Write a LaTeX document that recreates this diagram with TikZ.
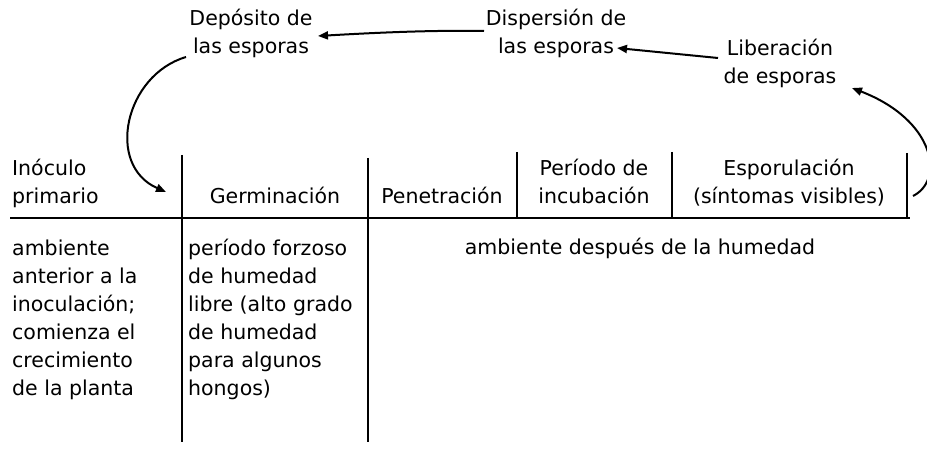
\documentclass[tikz,border=0pt]{standalone}
\usepackage{fontspec}
\newfontfamily\dv{DejaVu Sans}
\usetikzlibrary{arrows.meta}
\tikzset{
  lbl/.style={inner sep=0pt, font=\dv\fontsize{20.5}{28}\selectfont, align=left},
  hdr/.style={inner sep=0pt, font=\dv\fontsize{20.5}{28.5}\selectfont},
  rulel/.style={line width=2pt},
  arr/.style={line width=2pt, -{Triangle[length=10pt,width=8pt]}},
}
\begin{document}
\begin{tikzpicture}[x=1pt,y=-1pt]
\useasboundingbox (0,0) rectangle (927,449);
% top labels (anchor = baseline of last line)
\node[hdr, anchor=base, align=center] (dep) at (251,54) {Depósito de\\las esporas};
\node[hdr, anchor=base, align=center] (disp) at (556,54) {Dispersión de\\las esporas};
\node[hdr, anchor=base, align=center] (lib) at (780,84) {Liberación\\de esporas};
% headers
\node[hdr, anchor=base west, align=left] (inoc) at (12,204) {Inóculo\\primario};
\node[hdr, anchor=base] (germ) at (275,204) {Germinación};
\node[hdr, anchor=base] (pen) at (442,204) {Penetración};
\node[hdr, anchor=base, align=center] (inc) at (594,204) {Período de\\incubación};
\node[hdr, anchor=base, align=center] (esp) at (789,204) {Esporulación\\(síntomas visibles)};
% body
\node[lbl, anchor=base west] (amb1) at (12,395) {ambiente\\anterior a la\\inoculación;\\comienza el\\crecimiento\\de la planta};
\node[lbl, anchor=base west] (hum) at (188,395) {período forzoso\\de humedad\\libre (alto grado\\de humedad\\para algunos\\hongos)};
\node[lbl, anchor=base] (amb2) at (640,255) {ambiente después de la humedad};
% rules
\draw[rulel] (10,218) -- (910,218);
\draw[rulel] (182,155) -- (182,442);
\draw[rulel] (368,158) -- (368,442);
\draw[rulel] (517,152) -- (517,218);
\draw[rulel] (672,152) -- (672,218);
\draw[rulel] (907,153) -- (907,218);
% arrow end points
\coordinate (a1s) at (484,31);
\coordinate (a1e) at (318,36);
\coordinate (a2s) at (718,58);
\coordinate (a2e) at (617,48);
\coordinate (a3s) at (913,196);
\coordinate (a3e) at (852,88);
\coordinate (a4s) at (186,57);
\coordinate (a4e) at (166,192);
\draw[arr] (a1s) .. controls (430,30) and (370,33) .. (a1e);
\draw[arr] (a2s) -- (a2e);
\draw[arr] (a3s) .. controls (945,180) and (935,120) .. (a3e);
\draw[arr] (a4s) .. controls (125,75) and (105,165) .. (a4e);
\end{tikzpicture}
\end{document}
